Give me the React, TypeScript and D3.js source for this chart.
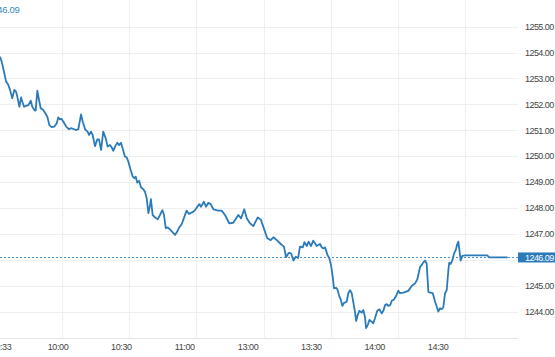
import React from "react";
import * as d3 from "d3";

// minutes after 09:30, with the lunch break (11:30-13:00) collapsed
const timeMin = [
  2.5, 3.3, 4.4, 5.4, 6.3, 7.2, 8.3, 9.3, 10.1, 10.7, 11.7, 12.5, 13.1, 13.9, 14.8, 15.9, 17.1, 17.8, 18.8, 19.4,
  20.2, 21.0, 21.8, 23.0, 24.2, 24.9, 25.9, 27.0, 28.2, 29.4, 30.1, 30.9, 31.7, 32.8, 34.1, 35.2, 36.1, 37.6, 38.5, 39.6,
  40.9, 41.7, 42.8, 44.0, 44.7, 45.6, 46.4, 47.5, 48.6, 49.4, 50.4, 51.4, 52.6, 53.5, 54.6, 55.4, 56.2, 57.0, 58.1, 59.0,
  59.8, 60.6, 61.7, 62.5, 63.3, 64.4, 65.4, 66.1, 66.8, 67.5, 68.4, 69.3, 70.4, 71.2, 72.0, 72.8, 73.6, 74.0, 74.8, 75.9,
  77.2, 78.3, 79.4, 80.2, 81.0, 81.9, 83.0, 84.1, 85.4, 86.4, 87.4, 88.6, 89.3, 90.9, 92.0, 94.1, 94.9, 96.9, 97.7, 99.1,
  100.1, 101.2, 102.3, 103.6, 105.9, 107.5, 109.1, 111.1, 113.0, 115.4, 116.7, 118.2, 119.4, 120.9, 122.5, 124.6, 126.1, 127.2, 129.1, 130.7,
  132.0, 133.9, 135.5, 137.0, 138.0, 139.3, 140.4, 141.5, 142.6, 143.7, 144.6, 145.9, 146.7, 147.8, 148.7, 149.8, 150.9, 152.5, 154.1, 154.9,
  155.7, 156.5, 157.6, 158.5, 159.3, 160.1, 160.7, 161.7, 162.3, 163.2, 163.9, 164.7, 165.5, 166.7, 167.5, 168.3, 169.1, 169.9, 170.7, 171.2,
  171.8, 172.7, 173.8, 174.6, 175.4, 175.9, 176.7, 177.5, 178.6, 179.3, 180.1, 181.2, 182.2, 183.3, 184.1, 184.9, 185.7, 186.4, 187.3, 188.1,
  189.1, 190.1, 191.2, 192.0, 193.6, 195.9, 197.5, 199.1, 200.2, 201.5, 202.3, 203.0, 203.8, 204.6, 205.4, 206.2, 207.5, 208.6, 209.4, 210.1,
  210.9, 211.7, 212.5, 213.3, 214.1, 214.9, 215.3, 216.0, 216.8, 217.6, 218.4, 219.1, 219.6, 220.1, 220.7, 221.5, 222.8, 233.3, 234.2, 243.0,
];

const price = [
  1253.84, 1253.65, 1253.26, 1252.88, 1252.78, 1252.58, 1252.24, 1252.56, 1252.49, 1252.3, 1251.91, 1252.27, 1252.1, 1251.91, 1251.94, 1251.97, 1252.14, 1251.91, 1251.78, 1251.76,
  1252.53, 1252.17, 1251.85, 1251.78, 1251.63, 1251.53, 1251.2, 1251.12, 1251.14, 1251.27, 1251.5, 1251.42, 1251.44, 1251.29, 1251.12, 1251.04, 1251.08, 1251.04, 1251.01, 1251.04,
  1251.61, 1251.33, 1251.04, 1250.95, 1250.82, 1250.95, 1250.82, 1250.39, 1250.65, 1250.65, 1250.24, 1250.95, 1250.69, 1250.37, 1250.43, 1250.34, 1250.21, 1250.37, 1250.52, 1250.43,
  1250.52, 1250.31, 1249.98, 1249.96, 1249.79, 1249.47, 1249.21, 1249.15, 1249.21, 1248.98, 1249.05, 1248.8, 1248.72, 1248.63, 1248.37, 1247.8, 1248.12, 1248.34, 1247.73, 1247.64,
  1247.56, 1247.73, 1247.92, 1247.73, 1247.22, 1247.25, 1247.18, 1247.08, 1246.96, 1247.08, 1247.25, 1247.38, 1247.54, 1247.9, 1247.77, 1247.86, 1247.92, 1248.15, 1248.05, 1248.24,
  1248.05, 1248.2, 1248.15, 1247.95, 1247.9, 1247.9, 1247.73, 1247.41, 1247.43, 1247.73, 1247.6, 1247.95, 1247.6, 1247.41, 1247.3, 1247.64, 1247.54, 1247.28, 1246.83, 1246.76,
  1246.87, 1246.74, 1246.61, 1246.51, 1246.1, 1246.27, 1246.25, 1245.97, 1246.12, 1246.07, 1246.51, 1246.48, 1246.68, 1246.53, 1246.7, 1246.53, 1246.74, 1246.53, 1246.61, 1246.48,
  1246.44, 1246.48, 1246.19, 1246.06, 1245.8, 1245.35, 1244.9, 1244.92, 1244.86, 1244.6, 1244.47, 1244.22, 1244.34, 1244.38, 1244.71, 1244.83, 1244.71, 1244.34, 1243.96, 1243.64,
  1243.83, 1244.03, 1243.96, 1244.06, 1243.78, 1243.36, 1243.48, 1243.68, 1243.61, 1243.55, 1243.74, 1244.03, 1244.09, 1243.93, 1244.03, 1244.25, 1244.29, 1244.22, 1244.25, 1244.42,
  1244.47, 1244.6, 1244.81, 1244.71, 1244.73, 1244.8, 1244.99, 1245.09, 1245.25, 1245.73, 1245.8, 1245.9, 1245.97, 1245.86, 1244.77, 1244.73, 1244.71, 1244.38, 1244.19, 1244.0,
  1244.13, 1244.09, 1244.17, 1244.71, 1244.83, 1245.61, 1245.89, 1245.84, 1245.99, 1246.25, 1246.38, 1246.61, 1246.7, 1246.38, 1245.97, 1246.15, 1246.17, 1246.17, 1246.09, 1246.09,
];

const lastPrice = 1246.09;

const xTickMin = [3, 30, 60, 90, 120, 150, 180, 210];
const xTickLabels = ["09:33", "10:00", "10:30", "11:00", "13:00", "13:30", "14:00", "14:30"];
const yTicks = [1244, 1245, 1246, 1247, 1248, 1249, 1250, 1251, 1252, 1253, 1254, 1255];

const W = 555;
const H = 357;
const PLOT_RIGHT = 518;
const PLOT_BOTTOM = 337.5;
const GRID_LEFT = -5.2;
const GRID_RIGHT = 532.4;
const LINE_COLOR = "#2b7bba";
const FONT = "'Liberation Sans', Arial, sans-serif";

export default function App() {
  const x = d3.scaleLinear().domain([0, 240]).range([-5.3, 501.4]);
  const y = d3.scaleLinear().domain([1243, 1255]).range([PLOT_BOTTOM, 26.7]);

  const pts = timeMin.map((t, i) => [t, price[i]] as [number, number]);
  const line = d3
    .line<[number, number]>()
    .x((d) => x(d[0]))
    .y((d) => y(d[1]));

  const vGrid = d3.range(1, 8).map((i) => GRID_LEFT + (i * (GRID_RIGHT - GRID_LEFT)) / 8);
  const yLast = y(lastPrice);

  return (
    <svg
      width={W}
      height={H}
      style={{ position: "absolute", left: 0, top: 0, background: "#fff" }}
      fontFamily={FONT}
    >
      <defs>
        <clipPath id="plot">
          <rect x={0} y={0} width={PLOT_RIGHT} height={PLOT_BOTTOM} />
        </clipPath>
      </defs>
      {/* grid */}
      {yTicks.map((t) => (
        <line key={"h" + t} x1={0} x2={PLOT_RIGHT} y1={Math.round(y(t)) + 0.5} y2={Math.round(y(t)) + 0.5} stroke="#efefef" strokeWidth={1} />
      ))}
      {vGrid.map((gx, i) => (
        <line key={"v" + i} x1={Math.round(gx) + 0.5} x2={Math.round(gx) + 0.5} y1={0} y2={PLOT_BOTTOM} stroke="#efefef" strokeWidth={1} />
      ))}
      <line x1={0} x2={PLOT_RIGHT} y1={Math.round(PLOT_BOTTOM) + 0.5} y2={Math.round(PLOT_BOTTOM) + 0.5} stroke="#e4e4e4" strokeWidth={1} />

      {/* last price dotted line */}
      <line x1={0} x2={PLOT_RIGHT} y1={yLast} y2={yLast} stroke="#4a90c8" strokeWidth={1} strokeDasharray="2,2" />

      {/* price line */}
      <path d={line(pts) || ""} fill="none" stroke={LINE_COLOR} strokeWidth={1.8} strokeLinejoin="round" clipPath="url(#plot)" />

      {/* y axis labels */}
      {yTicks
        .filter((t) => Math.abs(t - lastPrice) > 0.4)
        .map((t) => (
          <text key={"yl" + t} x={525} y={y(t) + 3.2} fontSize={9} letterSpacing={-0.55} fill="#444">
            {t.toFixed(2)}
          </text>
        ))}
      <rect x={PLOT_RIGHT} y={yLast - 5} width={W - PLOT_RIGHT} height={10} fill={LINE_COLOR} />
      <text x={525} y={yLast + 3.2} fontSize={9} letterSpacing={-0.55} fill="#fff">
        {lastPrice.toFixed(2)}
      </text>

      {/* x axis labels */}
      {xTickMin.map((m, i) => (
        <text key={"xl" + i} x={x(m)} y={350} fontSize={9} letterSpacing={-0.4} fill="#444" textAnchor="middle">
          {xTickLabels[i]}
        </text>
      ))}

      {/* top-left current price */}
      <text x={19.5} y={12.8} fontSize={9.5} letterSpacing={-0.3} fill="#3a86c4" textAnchor="end">
        {lastPrice.toFixed(2)}
      </text>
    </svg>
  );
}
